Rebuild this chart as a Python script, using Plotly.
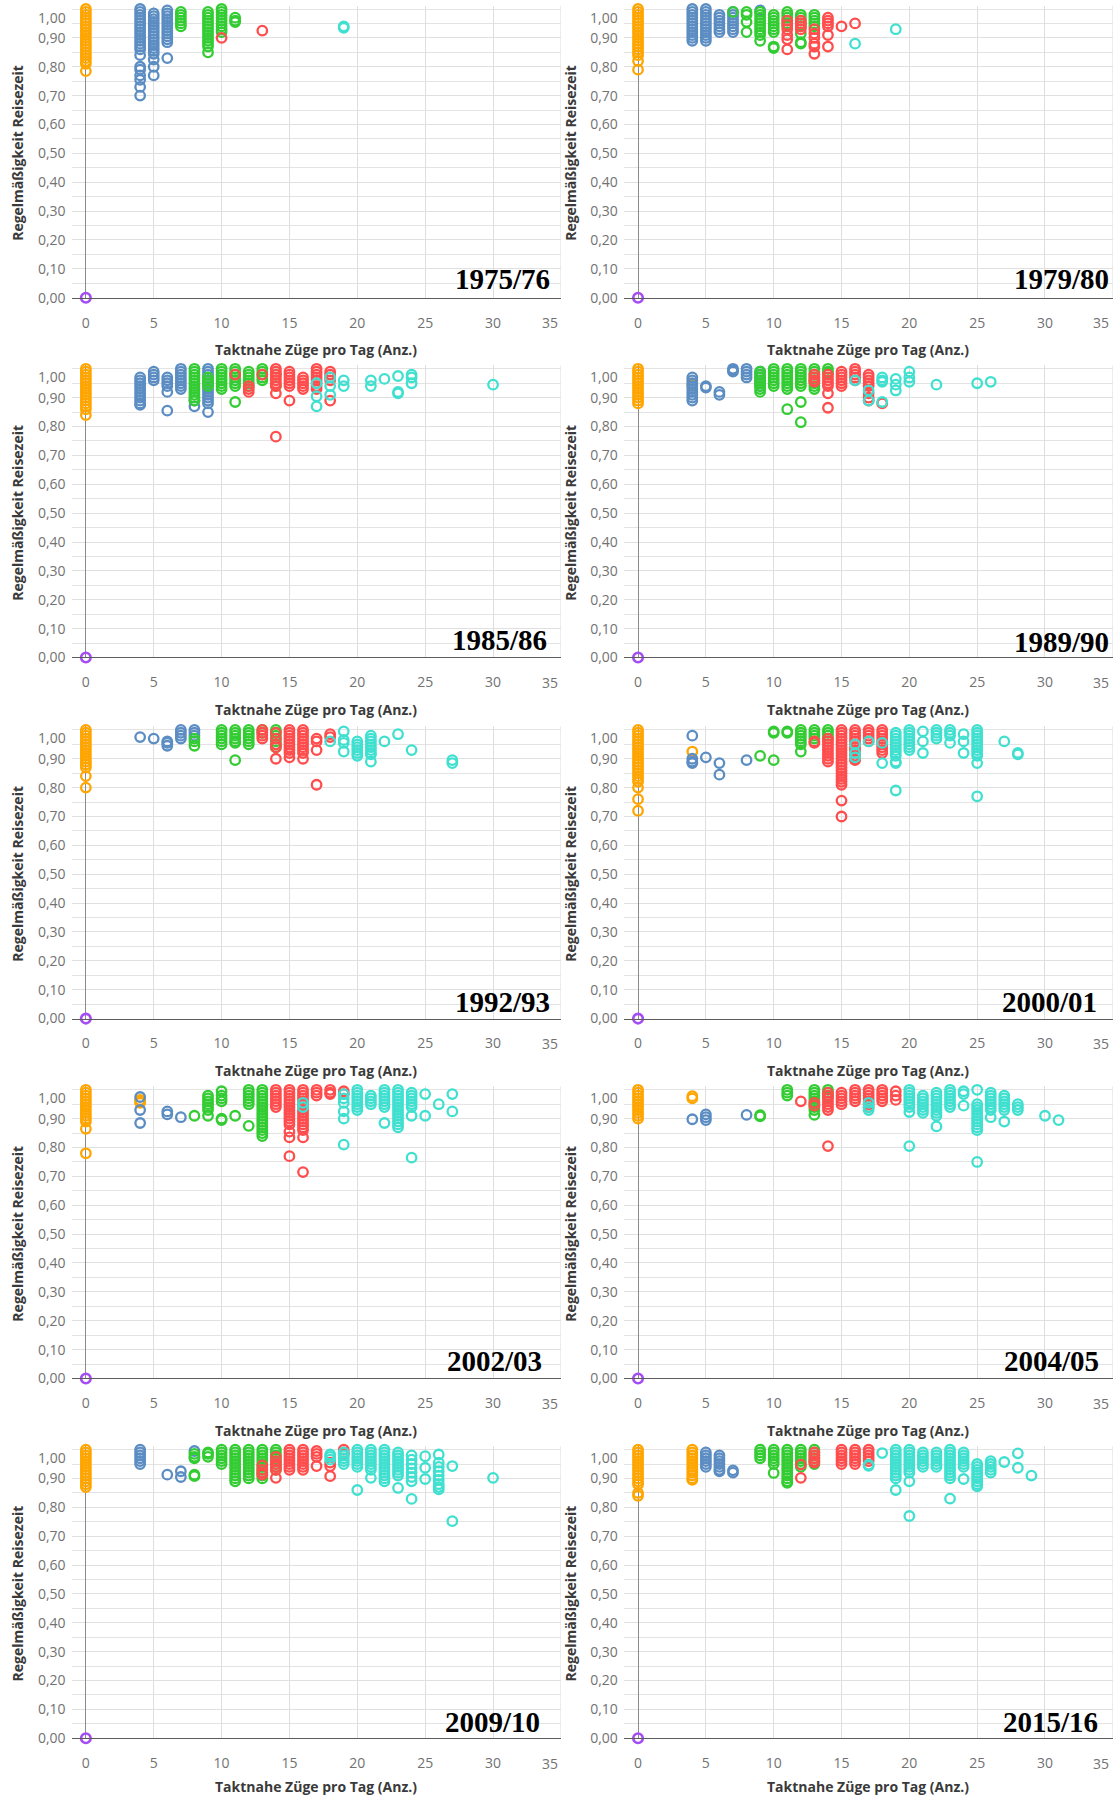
import plotly.graph_objects as go

# Regularity of travel time vs. number of clock-face trains per day, one panel per timetable year.
# Each dict maps "trains per day" -> list of regularity values observed at that count.

YEARS = ["1975/76", "1979/80", "1985/86", "1989/90", "1992/93",
         "2000/01", "2002/03", "2004/05", "2009/10", "2015/16"]

# ---------------- 1975/76 ----------------
ORANGE_1975 = {0: [1.0, 0.99, 0.98, 0.97, 0.96, 0.95, 0.94, 0.93, 0.92, 0.91, 0.9, 0.89, 0.88, 0.87,
                   0.86, 0.85, 0.84, 0.83, 0.82, 0.81, 0.785]}
BLUE_1975 = {
    4: [1.0, 0.99, 0.98, 0.97, 0.96, 0.95, 0.94, 0.93, 0.92, 0.91, 0.9, 0.89, 0.88, 0.87, 0.86,
        0.84, 0.8, 0.79, 0.77, 0.755, 0.73, 0.7],
    5: [0.985, 0.975, 0.965, 0.955, 0.945, 0.935, 0.925, 0.915, 0.905, 0.895, 0.885, 0.875, 0.865,
        0.855, 0.845, 0.825, 0.8, 0.77],
    6: [0.995, 0.985, 0.975, 0.965, 0.955, 0.945, 0.935, 0.925, 0.915, 0.905, 0.895, 0.885, 0.83],
}
GREEN_1975 = {
    7: [0.99, 0.98, 0.97, 0.96, 0.95, 0.94],
    9: [0.99, 0.98, 0.97, 0.96, 0.95, 0.94, 0.93, 0.92, 0.91, 0.9, 0.89, 0.88, 0.87, 0.85],
    10: [1.0, 0.99, 0.98, 0.97, 0.96, 0.95, 0.94, 0.93, 0.92],
    11: [0.97, 0.96, 0.955],
}
RED_1975 = {10: [0.9], 13: [0.925]}
TURQ_1975 = {19: [0.94, 0.935]}

# ---------------- 1979/80 ----------------
ORANGE_1979 = {0: [1.0, 0.99, 0.98, 0.97, 0.96, 0.95, 0.94, 0.93, 0.92, 0.91, 0.9, 0.89, 0.88, 0.87,
                   0.86, 0.85, 0.84, 0.82, 0.79]}
BLUE_1979 = {
    4: [1.0, 0.99, 0.98, 0.97, 0.96, 0.95, 0.94, 0.93, 0.92, 0.91, 0.9, 0.89],
    5: [1.0, 0.99, 0.98, 0.97, 0.96, 0.95, 0.94, 0.93, 0.92, 0.91, 0.9, 0.89],
    6: [0.98, 0.97, 0.96, 0.95, 0.94, 0.93, 0.92],
    7: [0.99, 0.98, 0.97, 0.96, 0.95, 0.94, 0.93, 0.92],
    9: [0.995],
}
GREEN_1979 = {
    7: [0.99],
    8: [0.99, 0.98, 0.955, 0.92],
    9: [0.99, 0.98, 0.97, 0.96, 0.95, 0.94, 0.93, 0.92, 0.91, 0.89],
    10: [0.98, 0.97, 0.96, 0.95, 0.94, 0.93, 0.92, 0.87, 0.865],
    11: [0.99, 0.98, 0.97, 0.96, 0.95, 0.94],
    12: [0.98, 0.97, 0.96, 0.95, 0.94, 0.915, 0.885, 0.88],
    13: [0.98, 0.97, 0.96, 0.95, 0.94],
}
RED_1979 = {
    11: [0.96, 0.945, 0.93, 0.91, 0.895, 0.86],
    12: [0.96, 0.95, 0.94, 0.93],
    13: [0.93, 0.915, 0.9, 0.88, 0.87, 0.845],
    14: [0.97, 0.96, 0.95, 0.94, 0.91, 0.87],
    15: [0.94],
    16: [0.95],
}
TURQ_1979 = {16: [0.88], 19: [0.93]}

# ---------------- 1985/86 ----------------
ORANGE_1985 = {0: [1.0, 0.99, 0.98, 0.97, 0.96, 0.95, 0.94, 0.93, 0.92, 0.91, 0.9, 0.89, 0.88, 0.87,
                   0.86, 0.84]}
BLUE_1985 = {
    4: [0.97, 0.96, 0.95, 0.94, 0.93, 0.92, 0.91, 0.9, 0.89, 0.88, 0.875],
    5: [0.99, 0.98, 0.97, 0.96],
    6: [0.97, 0.96, 0.95, 0.94, 0.92, 0.855],
    7: [1.0, 0.99, 0.98, 0.97, 0.96, 0.95, 0.94, 0.93],
    8: [0.89, 0.87],
    9: [1.0, 0.99, 0.98, 0.97, 0.96, 0.95, 0.94, 0.93, 0.92, 0.91, 0.9, 0.89, 0.88, 0.85],
}
GREEN_1985 = {
    8: [1.0, 0.99, 0.98, 0.97, 0.96, 0.95, 0.94, 0.93, 0.92, 0.91, 0.9, 0.89],
    9: [0.97, 0.96, 0.95, 0.94],
    10: [1.0, 0.99, 0.98, 0.97, 0.96, 0.95, 0.94, 0.93],
    11: [1.0, 0.99, 0.98, 0.97, 0.96, 0.95, 0.94, 0.885],
    12: [0.99, 0.98, 0.97, 0.96, 0.95, 0.94],
    13: [1.0, 0.99, 0.98, 0.97, 0.96],
    14: [0.98, 0.94],
}
RED_1985 = {
    11: [0.98],
    12: [0.94, 0.93, 0.92],
    13: [0.98],
    14: [1.0, 0.99, 0.98, 0.97, 0.96, 0.95, 0.94, 0.915, 0.765],
    15: [0.99, 0.98, 0.97, 0.96, 0.95, 0.94, 0.89],
    16: [0.97, 0.96, 0.95, 0.94, 0.93],
    17: [1.0, 0.99, 0.98, 0.97, 0.96, 0.95, 0.94, 0.93],
    18: [0.99, 0.98, 0.97, 0.96, 0.89],
}
TURQ_1985 = {
    17: [0.95, 0.905, 0.87],
    18: [0.97, 0.94, 0.91],
    19: [0.96, 0.94],
    21: [0.96, 0.94],
    22: [0.965],
    23: [0.975, 0.92, 0.915],
    24: [0.98, 0.97, 0.95],
    30: [0.945],
}

# ---------------- 1989/90 ----------------
ORANGE_1989 = {0: [1.0, 0.99, 0.98, 0.97, 0.96, 0.95, 0.94, 0.93, 0.92, 0.91, 0.9, 0.89, 0.88],
               4: [0.945]}
BLUE_1989 = {
    4: [0.97, 0.96, 0.95, 0.94, 0.93, 0.92, 0.91, 0.9, 0.89],
    5: [0.94, 0.935],
    6: [0.92, 0.91],
    7: [1.0, 0.995, 0.99],
    8: [1.0, 0.99, 0.98, 0.97],
    9: [0.99, 0.98, 0.97, 0.96, 0.95, 0.94],
}
GREEN_1989 = {
    9: [0.99, 0.98, 0.97, 0.96, 0.95, 0.94, 0.93, 0.92],
    10: [1.0, 0.99, 0.98, 0.97, 0.96, 0.95, 0.94],
    11: [1.0, 0.99, 0.98, 0.97, 0.96, 0.95, 0.94, 0.93, 0.86],
    12: [1.0, 0.99, 0.98, 0.97, 0.96, 0.95, 0.94, 0.885, 0.815],
    13: [1.0, 0.99, 0.98, 0.97, 0.96, 0.95, 0.94, 0.93],
    14: [1.0, 0.99, 0.985],
}
RED_1989 = {
    13: [0.98, 0.97, 0.96, 0.955],
    14: [0.98, 0.97, 0.96, 0.95, 0.94, 0.915, 0.865],
    15: [0.99, 0.98, 0.97, 0.96, 0.95, 0.94],
    16: [1.0, 0.99, 0.98, 0.97, 0.96],
    17: [0.98, 0.97, 0.96, 0.95, 0.94, 0.915, 0.9, 0.89],
    18: [0.88],
}
TURQ_1989 = {
    16: [0.96],
    17: [0.925, 0.89],
    18: [0.97, 0.96, 0.955, 0.885],
    19: [0.965, 0.945, 0.925],
    20: [0.99, 0.97, 0.955],
    22: [0.945],
    25: [0.95],
    26: [0.955],
}

# ---------------- 1992/93 ----------------
ORANGE_1992 = {0: [1.0, 0.99, 0.98, 0.97, 0.96, 0.95, 0.94, 0.93, 0.92, 0.91, 0.9, 0.89, 0.88, 0.87,
                   0.84, 0.8]}
BLUE_1992 = {4: [0.975], 5: [0.97], 6: [0.96, 0.955, 0.945], 7: [1.0, 0.99, 0.98, 0.97],
             8: [1.0, 0.99, 0.98]}
GREEN_1992 = {
    8: [0.97, 0.96, 0.945],
    10: [1.0, 0.99, 0.98, 0.97, 0.96, 0.95],
    11: [1.0, 0.99, 0.98, 0.97, 0.96, 0.955, 0.895],
    12: [1.0, 0.99, 0.98, 0.97, 0.96, 0.95],
    13: [1.0, 0.99],
    14: [1.0, 0.99, 0.98, 0.97, 0.96, 0.95, 0.94],
}
RED_1992 = {
    13: [1.0, 0.99, 0.98, 0.97],
    14: [0.99, 0.97, 0.95, 0.94, 0.9],
    15: [1.0, 0.99, 0.98, 0.97, 0.96, 0.95, 0.94, 0.93, 0.92, 0.905],
    16: [1.0, 0.99, 0.98, 0.97, 0.96, 0.95, 0.94, 0.93, 0.92, 0.9],
    17: [0.97, 0.96, 0.93, 0.81],
    18: [0.985, 0.975],
}
TURQ_1992 = {
    18: [0.96],
    19: [0.995, 0.965, 0.955, 0.925],
    20: [0.96, 0.95, 0.94, 0.93, 0.92, 0.91],
    21: [0.98, 0.97, 0.96, 0.95, 0.94, 0.93, 0.92, 0.915, 0.89],
    22: [0.96],
    23: [0.985],
    24: [0.93],
    27: [0.895, 0.885],
}

# ---------------- 2000/01 ----------------
ORANGE_2000 = {0: [1.0, 0.99, 0.98, 0.97, 0.96, 0.95, 0.94, 0.93, 0.92, 0.91, 0.9, 0.89, 0.88, 0.87,
                   0.86, 0.85, 0.84, 0.83, 0.82, 0.8, 0.76, 0.72],
               4: [0.925]}
BLUE_2000 = {4: [0.98, 0.9, 0.89, 0.885], 5: [0.905], 6: [0.885, 0.845], 8: [0.895]}
GREEN_2000 = {
    9: [0.91],
    10: [0.995, 0.99, 0.895],
    11: [0.995, 0.99],
    12: [1.0, 0.99, 0.98, 0.97, 0.96, 0.95, 0.925],
    13: [1.0, 0.99, 0.98, 0.97],
    14: [1.0, 0.99, 0.98, 0.97],
}
RED_2000 = {
    13: [0.96, 0.955],
    14: [0.97, 0.96, 0.95, 0.94, 0.93, 0.92, 0.91, 0.9, 0.89],
    15: [1.0, 0.99, 0.98, 0.97, 0.96, 0.95, 0.94, 0.93, 0.92, 0.91, 0.9, 0.89, 0.88, 0.87, 0.86,
         0.85, 0.84, 0.83, 0.82, 0.81, 0.755, 0.7],
    16: [1.0, 0.99, 0.98, 0.97, 0.96, 0.95, 0.94, 0.93, 0.92, 0.91, 0.9, 0.895],
    17: [1.0, 0.99, 0.98, 0.97, 0.96],
    18: [1.0, 0.99, 0.98, 0.97, 0.96, 0.95, 0.94, 0.93, 0.92],
}
TURQ_2000 = {
    16: [0.95, 0.92, 0.905],
    17: [0.96],
    18: [0.955, 0.885],
    19: [0.99, 0.98, 0.97, 0.96, 0.95, 0.94, 0.93, 0.92, 0.91, 0.89, 0.885, 0.79],
    20: [1.0, 0.99, 0.98, 0.97, 0.96, 0.95, 0.94, 0.93],
    21: [0.995, 0.96, 0.92],
    22: [1.0, 0.99, 0.98, 0.97],
    23: [1.0, 0.99, 0.98, 0.955],
    24: [0.985, 0.96, 0.92],
    25: [1.0, 0.99, 0.98, 0.97, 0.96, 0.95, 0.94, 0.93, 0.92, 0.91, 0.885, 0.77],
    27: [0.96],
    28: [0.92, 0.915],
}

# ---------------- 2002/03 ----------------
ORANGE_2002 = {0: [1.0, 0.99, 0.98, 0.97, 0.96, 0.95, 0.94, 0.93, 0.92, 0.91, 0.9, 0.89, 0.865, 0.78],
               4: [0.965, 0.96, 0.955]}
BLUE_2002 = {4: [0.975, 0.93, 0.885], 6: [0.925, 0.915], 7: [0.905]}
GREEN_2002 = {
    8: [0.91],
    9: [0.98, 0.97, 0.96, 0.95, 0.94, 0.93, 0.91],
    10: [0.995, 0.98, 0.97, 0.96, 0.9, 0.895],
    11: [0.91],
    12: [1.0, 0.99, 0.98, 0.97, 0.96, 0.95, 0.875],
    13: [1.0, 0.99, 0.98, 0.97, 0.96, 0.95, 0.94, 0.93, 0.92, 0.91, 0.9, 0.89, 0.88, 0.87, 0.86,
         0.85, 0.84],
}
RED_2002 = {
    14: [1.0, 0.99, 0.98, 0.97, 0.96, 0.95, 0.94],
    15: [1.0, 0.99, 0.98, 0.97, 0.96, 0.95, 0.94, 0.93, 0.92, 0.91, 0.9, 0.89, 0.88, 0.855, 0.835,
         0.77],
    16: [1.0, 0.99, 0.98, 0.97, 0.96, 0.95, 0.94, 0.93, 0.92, 0.91, 0.9, 0.89, 0.88, 0.87, 0.86,
         0.835, 0.715],
    17: [1.0, 0.99, 0.98],
    18: [1.0, 0.99, 0.985],
    19: [0.995, 0.985],
}
TURQ_2002 = {
    16: [0.955, 0.94],
    19: [0.985, 0.97, 0.955, 0.925, 0.9, 0.81],
    20: [1.0, 0.99, 0.98, 0.97, 0.96, 0.95, 0.94, 0.93],
    21: [0.98, 0.97, 0.96, 0.95],
    22: [1.0, 0.99, 0.98, 0.97, 0.96, 0.95, 0.94, 0.885],
    23: [1.0, 0.99, 0.98, 0.97, 0.96, 0.95, 0.94, 0.93, 0.92, 0.91, 0.9, 0.89, 0.88, 0.87],
    24: [0.99, 0.98, 0.97, 0.96, 0.95, 0.94, 0.91, 0.765],
    25: [0.985, 0.91],
    26: [0.95],
    27: [0.985, 0.925],
}

# ---------------- 2004/05 ----------------
ORANGE_2004 = {0: [1.0, 0.99, 0.98, 0.97, 0.96, 0.95, 0.94, 0.93, 0.92, 0.91, 0.9],
               4: [0.978, 0.97]}
BLUE_2004 = {4: [0.898], 5: [0.915, 0.905, 0.895], 8: [0.913]}
GREEN_2004 = {
    9: [0.912, 0.908],
    11: [1.0, 0.99, 0.98],
    13: [1.0, 0.99, 0.98, 0.97, 0.96, 0.95, 0.94, 0.93, 0.913],
    14: [1.0, 0.99, 0.98, 0.975],
}
RED_2004 = {
    12: [0.96],
    13: [0.955, 0.945],
    14: [0.99, 0.98, 0.97, 0.96, 0.95, 0.94, 0.93, 0.805],
    15: [0.99, 0.98, 0.97, 0.96, 0.95],
    16: [1.0, 0.99, 0.98, 0.97, 0.96],
    17: [1.0, 0.99, 0.98, 0.97, 0.96, 0.95, 0.94],
    18: [1.0, 0.99, 0.98, 0.97, 0.96],
    19: [0.995, 0.98, 0.965],
}
TURQ_2004 = {
    17: [0.955, 0.94, 0.93],
    20: [1.0, 0.99, 0.98, 0.97, 0.96, 0.95, 0.94, 0.923, 0.805],
    21: [0.98, 0.97, 0.96, 0.95, 0.94, 0.93, 0.92],
    22: [0.99, 0.98, 0.97, 0.96, 0.95, 0.94, 0.93, 0.92, 0.91, 0.873],
    23: [1.0, 0.99, 0.98, 0.97, 0.96, 0.95, 0.94],
    24: [0.995, 0.985, 0.945],
    25: [1.0, 0.95, 0.94, 0.93, 0.92, 0.91, 0.9, 0.89, 0.88, 0.87, 0.86, 0.75],
    26: [0.99, 0.98, 0.97, 0.96, 0.95, 0.94, 0.93, 0.905],
    27: [0.98, 0.97, 0.96, 0.95, 0.94, 0.93, 0.89],
    28: [0.95, 0.94, 0.93],
    30: [0.91],
    31: [0.895],
}

# ---------------- 2009/10 ----------------
ORANGE_2009 = {0: [1.0, 0.99, 0.98, 0.97, 0.96, 0.95, 0.94, 0.93, 0.92, 0.91, 0.9, 0.89, 0.88, 0.87]}
BLUE_2009 = {4: [1.0, 0.99, 0.98, 0.97, 0.96, 0.95], 6: [0.913], 7: [0.925, 0.905], 8: [0.995]}
GREEN_2009 = {
    8: [0.985, 0.975, 0.97, 0.913, 0.908],
    9: [0.99, 0.985, 0.975],
    10: [1.0, 0.99, 0.98, 0.97, 0.96, 0.95],
    11: [1.0, 0.99, 0.98, 0.97, 0.96, 0.95, 0.94, 0.93, 0.92, 0.91, 0.9, 0.89],
    12: [1.0, 0.99, 0.98, 0.97, 0.96, 0.95, 0.94, 0.93, 0.92, 0.91, 0.9],
    13: [1.0, 0.99, 0.98, 0.97, 0.96, 0.95, 0.94, 0.93, 0.92, 0.91, 0.9],
    14: [1.0, 0.99, 0.98, 0.97, 0.96, 0.95, 0.94, 0.93],
}
RED_2009 = {
    13: [0.945, 0.93, 0.92, 0.913],
    14: [0.975, 0.96, 0.95, 0.94, 0.93, 0.902],
    15: [1.0, 0.99, 0.98, 0.97, 0.96, 0.95, 0.94, 0.93],
    16: [1.0, 0.99, 0.98, 0.97, 0.96, 0.95, 0.94, 0.93],
    17: [0.995, 0.985, 0.975, 0.943],
    18: [0.955, 0.943, 0.908],
    19: [1.0, 0.99, 0.983],
}
TURQ_2009 = {
    18: [0.983, 0.975, 0.965],
    19: [0.99, 0.98, 0.97, 0.96, 0.95],
    20: [1.0, 0.99, 0.98, 0.97, 0.96, 0.95, 0.94, 0.86],
    21: [1.0, 0.99, 0.98, 0.97, 0.96, 0.95, 0.94, 0.93, 0.902],
    22: [1.0, 0.99, 0.98, 0.97, 0.96, 0.95, 0.94, 0.93, 0.92, 0.91, 0.9, 0.89],
    23: [0.99, 0.98, 0.97, 0.96, 0.95, 0.94, 0.93, 0.92, 0.91, 0.867],
    24: [0.98, 0.965, 0.95, 0.935, 0.92, 0.905, 0.89, 0.829],
    25: [0.977, 0.937, 0.898],
    26: [0.983, 0.955, 0.94, 0.925, 0.91, 0.895, 0.88, 0.87, 0.862],
    27: [0.943, 0.752],
    30: [0.902],
}

# ---------------- 2015/16 ----------------
ORANGE_2015 = {0: [1.0, 0.99, 0.98, 0.97, 0.96, 0.95, 0.94, 0.93, 0.92, 0.91, 0.9, 0.89, 0.88, 0.85,
                   0.84],
               4: [1.0, 0.99, 0.98, 0.97, 0.96, 0.95, 0.94, 0.93, 0.92, 0.91, 0.9, 0.895]}
BLUE_2015 = {5: [0.99, 0.98, 0.97, 0.96, 0.95, 0.94], 6: [0.98, 0.97, 0.96, 0.95, 0.94, 0.93, 0.925],
             7: [0.928, 0.92]}
GREEN_2015 = {
    9: [1.0, 0.99, 0.98, 0.97],
    10: [1.0, 0.99, 0.98, 0.97, 0.96, 0.95, 0.919],
    11: [1.0, 0.99, 0.98, 0.97, 0.96, 0.95, 0.94, 0.93, 0.92, 0.91, 0.9, 0.89, 0.885],
    12: [1.0, 0.99, 0.98, 0.97, 0.96, 0.95, 0.94],
    13: [1.0, 0.99, 0.98, 0.97, 0.96, 0.95],
}
RED_2015 = {
    12: [0.948, 0.902],
    13: [0.99, 0.98, 0.97, 0.96, 0.955],
    15: [1.0, 0.99, 0.98, 0.97, 0.96, 0.95],
    16: [1.0, 0.99, 0.98, 0.97, 0.96, 0.95],
    17: [1.0, 0.99, 0.98, 0.97, 0.96],
}
TURQ_2015 = {
    17: [0.948, 0.944],
    18: [0.988],
    19: [1.0, 0.99, 0.98, 0.97, 0.96, 0.95, 0.94, 0.93, 0.92, 0.91, 0.9, 0.86],
    20: [1.0, 0.99, 0.98, 0.97, 0.96, 0.95, 0.94, 0.93, 0.92, 0.89, 0.77],
    21: [0.99, 0.98, 0.97, 0.96, 0.95, 0.94],
    22: [0.99, 0.98, 0.97, 0.96, 0.95, 0.94],
    23: [1.0, 0.99, 0.98, 0.97, 0.96, 0.95, 0.94, 0.93, 0.92, 0.91, 0.9, 0.83],
    24: [0.99, 0.98, 0.97, 0.96, 0.95, 0.94, 0.898],
    25: [0.95, 0.94, 0.93, 0.92, 0.91, 0.9, 0.89, 0.88, 0.873],
    26: [0.96, 0.95, 0.94, 0.93, 0.92],
    27: [0.957],
    28: [0.987, 0.937],
    29: [0.91],
}

# Stations without any clock-face service sit at the origin
ORIGIN_X = [0]
ORIGIN_Y = [0.0]

PANELS = [
    (ORANGE_1975, BLUE_1975, GREEN_1975, RED_1975, TURQ_1975),
    (ORANGE_1979, BLUE_1979, GREEN_1979, RED_1979, TURQ_1979),
    (ORANGE_1985, BLUE_1985, GREEN_1985, RED_1985, TURQ_1985),
    (ORANGE_1989, BLUE_1989, GREEN_1989, RED_1989, TURQ_1989),
    (ORANGE_1992, BLUE_1992, GREEN_1992, RED_1992, TURQ_1992),
    (ORANGE_2000, BLUE_2000, GREEN_2000, RED_2000, TURQ_2000),
    (ORANGE_2002, BLUE_2002, GREEN_2002, RED_2002, TURQ_2002),
    (ORANGE_2004, BLUE_2004, GREEN_2004, RED_2004, TURQ_2004),
    (ORANGE_2009, BLUE_2009, GREEN_2009, RED_2009, TURQ_2009),
    (ORANGE_2015, BLUE_2015, GREEN_2015, RED_2015, TURQ_2015),
]

X_TICKS = [0, 5, 10, 15, 20, 25, 30]
X_LAST_TICK = 35          # drawn flush with the right edge of each panel
Y_TICKS = [0.0, 0.1, 0.2, 0.3, 0.4, 0.5, 0.6, 0.7, 0.8, 0.9]
Y_TOP_TICK = 1.0          # drawn just below its grid line so it stays inside the panel
X_TITLE = "Taktnahe Züge pro Tag (Anz.)"
Y_TITLE = "Regelmäßigkeit Reisezeit"

# ---- styling / geometry ----
GROUP_COLORS = ["#FFA500", "#5B8DC3", "#33CC33", "#FF4D4D", "#40E0D0"]
ORIGIN_COLOR = "#A54DF5"
W, H = 1116, 1802
COL_PX = [(71.6, 560.9), (623.8, 1112.8)]          # plot left/right edge per column
ZERO_PX = [299.2, 660.8, 1023.7, 1385.4, 1747.0]    # pixel row of y = 0 per row
UNIT_PX = 290.15                                   # pixels per 1.0 on the y axis
Y_MAX = 1.012
Y_TITLE_PX = [17.5, 570.5]
X_TITLE_SHIFT = [-52, -52, -52, -52, -48]
LABEL_SHIFT = [-8.7, -2, -12.3, -2, -9.4, -14.2, -16.9, -11.8, -19.4, -12.8]   # px from right edge
LABEL_Y = [0.064, 0.064, 0.06, 0.052, 0.057, 0.057, 0.062, 0.062, 0.058, 0.058]
TICK_FONT = dict(family="Open Sans", size=14, color="#727272")
TITLE_FONT = dict(family="Open Sans", size=14, color="#3a3a3a")


def german_decimal(v):
    return f"{v:.2f}".replace(".", ",")


fig = go.Figure()
annotations = []

for i, groups in enumerate(PANELS):
    n = i + 1
    row, col = divmod(i, 2)
    xs = "x" if n == 1 else f"x{n}"
    ys = "y" if n == 1 else f"y{n}"

    for color, group in zip(GROUP_COLORS, groups):
        px, py = [], []
        for count, values in group.items():
            px.extend([count] * len(values))
            py.extend(values)
        fig.add_trace(go.Scatter(
            x=px, y=py, xaxis=xs, yaxis=ys, mode="markers", cliponaxis=False,
            marker=dict(symbol="circle-open", size=9.5, color=color, line=dict(width=2.3, color=color)),
            hoverinfo="x+y", showlegend=False))
    fig.add_trace(go.Scatter(
        x=ORIGIN_X, y=ORIGIN_Y, xaxis=xs, yaxis=ys, mode="markers", cliponaxis=False,
        marker=dict(symbol="circle-open", size=9.5, color=ORIGIN_COLOR, line=dict(width=2.6, color=ORIGIN_COLOR)),
        hoverinfo="x+y", showlegend=False))

    left, right = COL_PX[col]
    z = ZERO_PX[row]
    top = z - Y_MAX * UNIT_PX
    xkey = "xaxis" if n == 1 else f"xaxis{n}"
    ykey = "yaxis" if n == 1 else f"yaxis{n}"
    fig.layout[xkey] = dict(
        domain=[left / W, right / W], anchor=ys, range=[-1.05, 35],
        tickmode="array", tickvals=X_TICKS, ticks="", ticklabelstandoff=12,
        tickfont=TICK_FONT, showgrid=True, gridcolor="#dedede", gridwidth=1,
        zeroline=True, zerolinecolor="#8a8a8a", zerolinewidth=1,
        showline=True, linecolor="#5c5c5c", linewidth=1, fixedrange=True)
    fig.layout[ykey] = dict(
        domain=[1 - z / H, 1 - top / H], anchor=xs, range=[0, Y_MAX],
        tickmode="array", tickvals=Y_TICKS, tickformat=".2f", ticks="", ticklabelstandoff=5,
        tickfont=TICK_FONT, showgrid=True, gridcolor="#e0e0e0", gridwidth=1,
        minor=dict(tickmode="linear", tick0=0, dtick=0.05, showgrid=True,
                   gridcolor="#e3e3e3", gridwidth=1),
        zeroline=False, showline=False, fixedrange=True)
    # vertical grid line at the right edge, where the last tick sits
    fig.add_shape(type="line", xref=xs, yref=f"{ys} domain", x0=X_LAST_TICK, x1=X_LAST_TICK,
                  y0=0, y1=1, line=dict(color="#dedede", width=1), layer="below")

    # edge tick labels kept inside the panel
    annotations.append(dict(
        text=str(X_LAST_TICK), xref=xs, yref=ys, x=34.9, y=0, xanchor="right", yanchor="middle",
        yshift=-25, showarrow=False, font=TICK_FONT))
    annotations.append(dict(
        text=german_decimal(Y_TOP_TICK), xref=f"{xs} domain", yref=ys, x=0, y=Y_TOP_TICK,
        xanchor="right", yanchor="middle", xshift=-4, yshift=-8, showarrow=False, font=TICK_FONT))
    # axis titles
    annotations.append(dict(
        text=f"<b>{Y_TITLE}</b>", textangle=-90, xref="paper", yref=ys,
        x=Y_TITLE_PX[col] / W, y=0.5, xanchor="center", yanchor="middle",
        showarrow=False, font=TITLE_FONT))
    annotations.append(dict(
        text=f"<b>{X_TITLE}</b>", xref=f"{xs} domain", yref=ys, x=0.5, y=0,
        yshift=X_TITLE_SHIFT[row], xanchor="center", yanchor="middle", showarrow=False,
        font=TITLE_FONT))
    # timetable year, right-aligned near the panel's right edge
    annotations.append(dict(
        text=f"<b>{YEARS[i]}</b>", xref=f"{xs} domain", yref=ys, x=1.0, y=LABEL_Y[i],
        xanchor="right", yanchor="middle", xshift=LABEL_SHIFT[i], showarrow=False,
        font=dict(family="Liberation Serif", size=29, color="#000000")))

fig.update_layout(
    width=W, height=H, margin=dict(l=0, r=0, t=0, b=0),
    paper_bgcolor="white", plot_bgcolor="white", showlegend=False,
    separators=",.", annotations=annotations)

fig.write_html("out.html")
